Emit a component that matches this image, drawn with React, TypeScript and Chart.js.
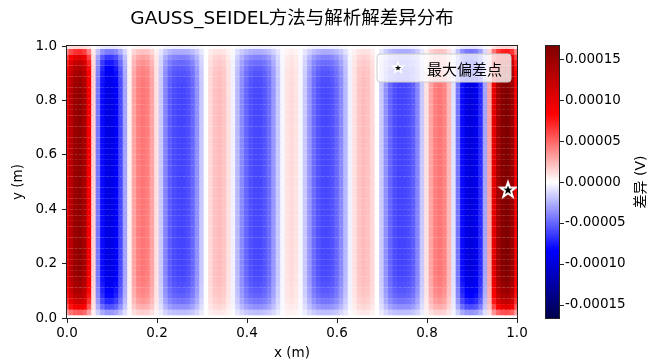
import { useEffect, useRef } from 'react';
import { Chart, registerables } from 'chart.js';

Chart.register(...registerables);

const TITLE = 'GAUSS_SEIDEL方法与解析解差异分布';
const X_LABEL = 'x (m)';
const Y_LABEL = 'y (m)';
const CB_LABEL = '差异 (V)';
const LEGEND_LABEL = '最大偏差点';

// difference values are stored in units of 1e-5 V
const UNIT = 1e-5;

// difference along x (x = 0.00 … 1.00, step 0.01) at mid-height
const colProfile = [
  9, 13, 15, 15.5, 14, 9, 1.5, -4.5, -8, -9.5,
  -9.5, -8.5, -6, -3, 0.5, 3, 4.2, 4.5, 4.2, 3,
  1, -1.8, -4, -5.3, -5.9, -6.1, -6.1, -5.8, -5, -3.6,
  -1.8, 0, 1.3, 2, 2.2, 1.9, 1, -0.5, -2.3, -3.8,
  -5, -5.7, -6, -6, -5.6, -4.8, -3.4, -1.8, -0.3, 0.9,
  1.2, 0.9, -0.3, -1.8, -3.4, -4.8, -5.6, -6, -6, -5.7,
  -5, -3.8, -2.3, -0.5, 1, 1.9, 2.2, 2, 1.3, 0,
  -1.8, -3.6, -5, -5.8, -6.1, -6.1, -5.9, -5.3, -4, -1.8,
  1, 3, 4.2, 4.5, 4, 2.3, -1, -4.5, -8, -9.6,
  -9.9, -9.2, -7, -3, 3, 10, 14.5, 16.2, 16.6, 15,
  9,
];

// relative strength along y (y = 0.00 … 1.00, step 0.02)
const rowEnvelope = [
  0, 0.35, 0.6, 0.75, 0.85, 0.9, 0.94, 0.97, 0.99,
  1, 1, 1, 1, 1, 1, 1, 1, 1, 1,
  1, 1, 1, 1, 1, 1, 1, 1, 1, 1,
  1, 1, 1, 1, 1, 1, 1, 1, 1, 1,
  1, 1,
  0.99, 0.98, 0.96, 0.93, 0.88, 0.8, 0.68, 0.45, 0.08,
];

const maxPoint = { x: 0.98, y: 0.47 };

const CB_MIN = -0.000166;
const CB_MAX = 0.000166;

const xTicks = [0, 0.2, 0.4, 0.6, 0.8, 1.0];
const yTicks = [0, 0.2, 0.4, 0.6, 0.8, 1.0];
const cbTicks = [-0.00015, -0.0001, -0.00005, 0, 0.00005, 0.0001, 0.00015];

const FONT = "'DejaVu Sans', 'Noto Sans CJK SC', sans-serif";
const CJK_FONT = "'Noto Sans CJK SC', 'DejaVu Sans', sans-serif";

// matplotlib "seismic" colour map
function seismic(v: number): string {
  let n = (v - CB_MIN) / (CB_MAX - CB_MIN);
  n = Math.max(0, Math.min(1, n));
  let r = 0, g = 0, b = 0;
  if (n < 0.25) {
    b = 0.3 + 0.7 * (n / 0.25);
  } else if (n < 0.5) {
    const t = (n - 0.25) / 0.25;
    r = t; g = t; b = 1;
  } else if (n < 0.75) {
    const t = (n - 0.5) / 0.25;
    r = 1; g = 1 - t; b = 1 - t;
  } else {
    const t = (n - 0.75) / 0.25;
    r = 1 - 0.5 * t;
  }
  return `rgb(${Math.round(r * 255)},${Math.round(g * 255)},${Math.round(b * 255)})`;
}

function makeStar(outer: number, lineWidth: number): HTMLCanvasElement {
  const pad = lineWidth + 1;
  const size = Math.ceil((outer + pad) * 2);
  const c = document.createElement('canvas');
  c.width = size;
  c.height = size;
  const ctx = c.getContext('2d')!;
  const cx = size / 2;
  const cy = size / 2;
  const inner = outer * 0.4;
  ctx.beginPath();
  for (let k = 0; k < 10; k++) {
    const r = k % 2 === 0 ? outer : inner;
    const a = -Math.PI / 2 + (k * Math.PI) / 5;
    const px = cx + r * Math.cos(a);
    const py = cy + r * Math.sin(a);
    if (k === 0) ctx.moveTo(px, py);
    else ctx.lineTo(px, py);
  }
  ctx.closePath();
  ctx.fillStyle = '#000';
  ctx.fill();
  ctx.lineJoin = 'miter';
  ctx.strokeStyle = '#fff';
  ctx.lineWidth = lineWidth;
  ctx.stroke();
  return c;
}

const decorPlugin = {
  id: 'decor',
  afterDatasetsDraw(chart: any) {
    const { ctx, chartArea } = chart;
    const { left, right, top, bottom } = chartArea;
    ctx.save();
    // frame
    ctx.strokeStyle = '#222';
    ctx.lineWidth = 1;
    ctx.strokeRect(Math.round(left) - 0.5, Math.round(top) - 0.5, Math.round(right - left) + 1, Math.round(bottom - top) + 1);

    // legend box
    const lw = 134, lh = 28;
    const lx = right - 6 - lw;
    const ly = top + 8;
    const rad = 3;
    ctx.beginPath();
    ctx.moveTo(lx + rad, ly);
    ctx.lineTo(lx + lw - rad, ly);
    ctx.quadraticCurveTo(lx + lw, ly, lx + lw, ly + rad);
    ctx.lineTo(lx + lw, ly + lh - rad);
    ctx.quadraticCurveTo(lx + lw, ly + lh, lx + lw - rad, ly + lh);
    ctx.lineTo(lx + rad, ly + lh);
    ctx.quadraticCurveTo(lx, ly + lh, lx, ly + lh - rad);
    ctx.lineTo(lx, ly + rad);
    ctx.quadraticCurveTo(lx, ly, lx + rad, ly);
    ctx.closePath();
    ctx.fillStyle = 'rgba(255,255,255,0.8)';
    ctx.fill();
    ctx.strokeStyle = '#cccccc';
    ctx.lineWidth = 1;
    ctx.stroke();
    const icon = makeStar(5.5, 1.5);
    ctx.drawImage(icon, lx + 21 - icon.width / 2, ly + lh / 2 - icon.height / 2);
    ctx.fillStyle = '#000';
    ctx.font = `15px ${CJK_FONT}`;
    ctx.textAlign = 'left';
    ctx.textBaseline = 'middle';
    ctx.fillText(LEGEND_LABEL, lx + 50, ly + lh / 2 + 1);
    ctx.restore();
  },
  afterDraw(chart: any) {
    const { ctx, chartArea } = chart;
    const cb = chart.scales.cb;
    ctx.save();
    // title
    ctx.fillStyle = '#000';
    ctx.font = `18.5px ${FONT}`;
    ctx.textAlign = 'center';
    ctx.textBaseline = 'middle';
    ctx.fillText(TITLE, (chartArea.left + chartArea.right) / 2, 19);

    // colour bar
    const barLeft = Math.round(chartArea.right) + 29;
    const barW = 13;
    const barTop = Math.round(cb.top);
    const barBottom = Math.round(cb.bottom);
    for (let py = barTop; py < barBottom; py++) {
      ctx.fillStyle = seismic(cb.getValueForPixel(py + 0.5));
      ctx.fillRect(barLeft, py, barW, 1);
    }
    ctx.strokeStyle = '#222';
    ctx.lineWidth = 1;
    ctx.strokeRect(barLeft - 0.5, barTop - 0.5, barW + 1, barBottom - barTop + 1);
    ctx.beginPath();
    cbTicks.forEach((t) => {
      const y = Math.round(cb.getPixelForValue(t)) + 0.5;
      ctx.moveTo(barLeft + barW, y);
      ctx.lineTo(barLeft + barW + 5, y);
    });
    ctx.stroke();

    // colour bar label
    ctx.translate(641, (cb.top + cb.bottom) / 2);
    ctx.rotate(-Math.PI / 2);
    ctx.font = `14px ${FONT}`;
    ctx.fillStyle = '#000';
    ctx.textAlign = 'center';
    ctx.textBaseline = 'middle';
    ctx.fillText(CB_LABEL, 0, 0);
    ctx.restore();
  },
};

export default function App() {
  const canvasRef = useRef<HTMLCanvasElement | null>(null);

  useEffect(() => {
    const canvas = canvasRef.current;
    if (!canvas) return;

    const nx = colProfile.length;
    const ny = rowEnvelope.length;
    const heat: { x: number; y: number; v: number }[] = [];
    rowEnvelope.forEach((env, j) => {
      colProfile.forEach((c, i) => {
        heat.push({ x: i / (nx - 1), y: j / (ny - 1), v: c * UNIT * env });
      });
    });

    const starImg = makeStar(8, 2);
    const tickFont = { family: FONT, size: 13.5 };

    const chart = new Chart(canvas, {
      type: 'scatter',
      data: {
        datasets: [
          {
            label: LEGEND_LABEL,
            data: [maxPoint],
            pointStyle: starImg as any,
            pointRadius: 8,
            order: 0,
            clip: false as any,
          },
          {
            label: 'diff',
            data: heat as any,
            pointStyle: 'rect',
            pointRadius: 4,
            pointHoverRadius: 4,
            borderWidth: 0,
            backgroundColor: (ctx: any) => seismic(ctx.raw ? ctx.raw.v : 0),
            order: 1,
            clip: 0 as any,
          },
        ],
      },
      options: {
        responsive: false,
        animation: false,
        events: [],
        layout: { padding: { top: 46, left: 0, right: 0, bottom: 0 } },
        plugins: {
          legend: { display: false },
          tooltip: { enabled: false },
          title: { display: false },
        },
        scales: {
          x: {
            type: 'linear',
            min: 0,
            max: 1,
            afterBuildTicks: (s: any) => { s.ticks = xTicks.map((v) => ({ value: v })); },
            afterFit: (s: any) => { s.height = 46; },
            ticks: {
              callback: (v: any) => Number(v).toFixed(1),
              font: tickFont,
              color: '#000',
              padding: 2,
              maxRotation: 0,
              autoSkip: false,
            },
            grid: { drawOnChartArea: false, tickLength: 5, tickColor: '#222', tickWidth: 1 },
            border: { display: false },
            title: { display: true, text: X_LABEL, font: { family: FONT, size: 13.5 }, color: '#000', padding: { top: 0, bottom: 2 } },
          },
          y: {
            type: 'linear',
            position: 'left',
            min: 0,
            max: 1,
            afterBuildTicks: (s: any) => { s.ticks = yTicks.map((v) => ({ value: v })); },
            afterFit: (s: any) => { s.width = 67; },
            ticks: {
              callback: (v: any) => Number(v).toFixed(1),
              font: tickFont,
              color: '#000',
              padding: 5,
              autoSkip: false,
            },
            grid: { drawOnChartArea: false, tickLength: 5, tickColor: '#222', tickWidth: 1 },
            border: { display: false },
            title: { display: true, text: Y_LABEL, font: { family: FONT, size: 13.5 }, color: '#000', padding: { top: 10, bottom: 0 } },
          },
          cb: {
            type: 'linear',
            position: 'right',
            min: CB_MIN,
            max: CB_MAX,
            afterBuildTicks: (s: any) => { s.ticks = cbTicks.map((v) => ({ value: v })); },
            afterFit: (s: any) => { s.width = 133; },
            ticks: {
              callback: (v: any) => Number(v).toFixed(5),
              font: tickFont,
              color: '#000',
              padding: 4,
              autoSkip: false,
            },
            grid: { drawOnChartArea: false, drawTicks: true, tickLength: 44, tickColor: 'rgba(0,0,0,0)' },
            border: { display: false },
          },
        },
      } as any,
      plugins: [decorPlugin],
    });

    return () => chart.destroy();
  }, []);

  return (
    <div style={{ position: 'fixed', left: 0, top: 0, width: 650, height: 364, background: '#fff' }}>
      <canvas ref={canvasRef} width={650} height={364} style={{ display: 'block' }} />
    </div>
  );
}
